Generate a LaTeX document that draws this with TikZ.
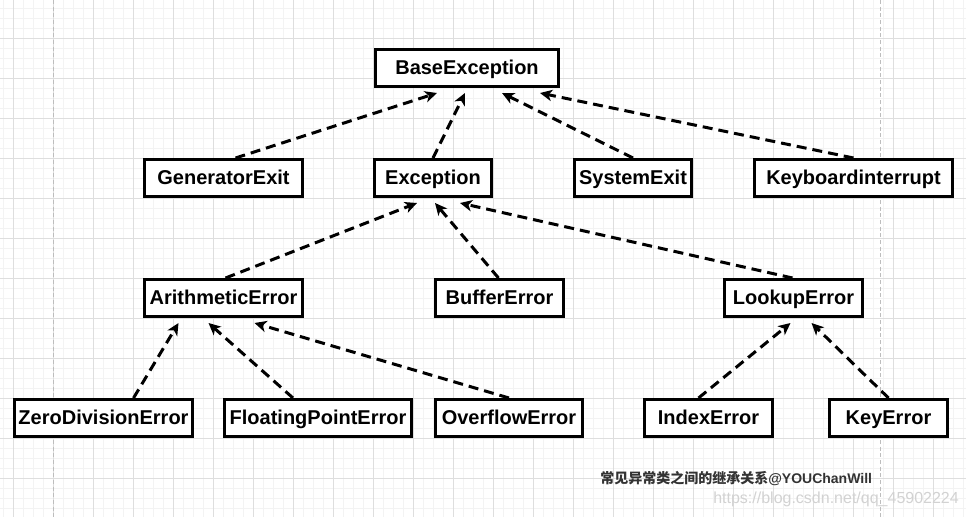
\documentclass[tikz,border=0pt]{standalone}
\usepackage{fontspec}
\setmainfont{Liberation Sans}
\newfontfamily\cjk{Noto Sans CJK SC}
\usepackage{tikz}
\usetikzlibrary{arrows.meta,calc}
\definecolor{gridminor}{HTML}{F3F3F3}
\definecolor{gridmajor}{HTML}{DEDEDE}
\definecolor{pagebreak}{HTML}{BDBDBD}
\definecolor{caption}{HTML}{333333}
\definecolor{wmark}{HTML}{D2D2D2}

\begin{document}
\begin{tikzpicture}[x=0.75pt,y=-0.75pt,>={Stealth[length=9pt,width=8.5pt,inset=2.5pt]},
    cls/.style={draw,line width=2.25pt,fill=white,inner sep=0pt,minimum height=27.75pt,
      font=\fontsize{15}{18}\selectfont\bfseries,text height=12pt,text depth=2.8pt},
    inh/.style={->,line width=2.25pt,dash pattern=on 7.5pt off 4.5pt}]
        \useasboundingbox[fill=white] (0,0) rectangle (966,517);
        % grid paper
        \foreach \gx in {3,13,...,963} \draw[gridminor,line width=0.6pt] (\gx,0) -- (\gx,517);
        \foreach \gy in {8,18,...,508} \draw[gridminor,line width=0.6pt] (0,\gy) -- (966,\gy);
        \foreach \gx in {13,53,...,953} \draw[gridmajor,line width=0.6pt] (\gx,0) -- (\gx,517);
        \foreach \gy in {38,78,...,478} \draw[gridmajor,line width=0.6pt] (0,\gy) -- (966,\gy);
        \draw[pagebreak,line width=0.6pt,dash pattern=on 3pt off 2pt] (53,0) -- (53,517);
        \draw[pagebreak,line width=0.6pt,dash pattern=on 3pt off 2pt] (880,0) -- (880,517);
        % classes
        \foreach \x/\y/\n/\w/\t in {467/68/base/186/BaseException,
            223.5/178/gen/161/GeneratorExit,433/178/exc/120/Exception,
            633/178/sysexit/120/SystemExit,853.5/178/kbd/201/Keyboardinterrupt,
            223.5/298/arith/161/ArithmeticError,499.5/298/buf/131/BufferError,
            793.5/298/lookup/141/LookupError,
            103.5/418/zero/181/ZeroDivisionError,318/418/float/190/FloatingPointError,
            509/418/over/150/OverflowError,708.5/418/index/131/IndexError,
            888.5/418/key/121/KeyError}
          \node[cls,minimum width=\w*0.75pt-2.25pt] (\n) at (\x,\y) {\t};
        % inheritance
        \foreach \c/\cs/\p/\ps in {gen/12/base/-30,exc/0/base/-2,sysexit/0/base/35,kbd/0/base/73,
            arith/2/exc/-16,buf/-1/exc/2,lookup/-1/exc/27,
            zero/30/arith/-45,float/-25/arith/-15,over/0/arith/31,
            index/-10/lookup/-3,key/0/lookup/18}
          \draw[inh] ($(\c.north)+(\cs,0)$) -- ($(\p.south)+(\ps,5)$);
        \node[anchor=west,text=caption,inner sep=0pt,font=\fontsize{10.5}{12}\selectfont\bfseries] (cap) at (600,479)
          {{\cjk 常见异常类之间的继承关系}@YOUChanWill};
        \node[anchor=west,text=wmark,inner sep=0pt,font=\fontsize{12}{14}\selectfont] (wm) at (713,499)
          {https://blog.csdn.net/qq\_45902224};
      \end{tikzpicture}
\end{document}
